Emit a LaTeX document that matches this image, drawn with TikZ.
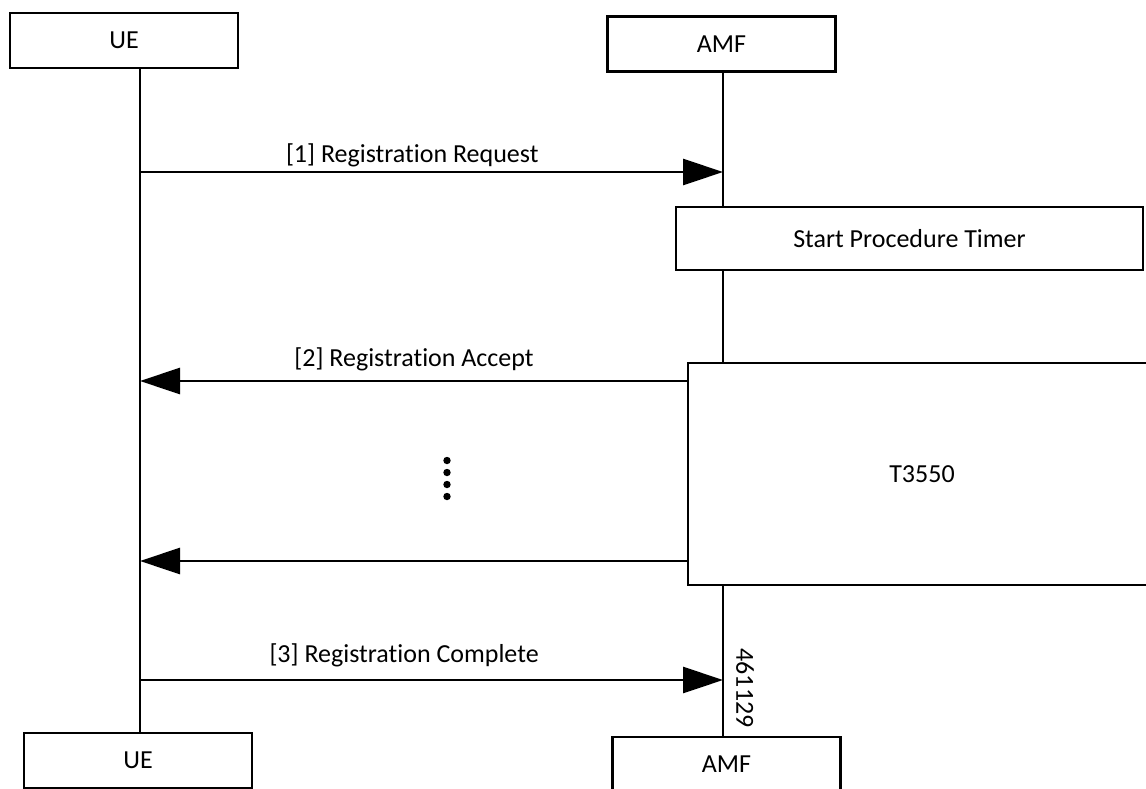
\documentclass[tikz,border=0pt]{standalone}
\usepackage{fontspec}
\setmainfont{Carlito}[Ligatures={NoCommon,NoRequired,NoContextual}, Contextuals=NoAlternate]
\usetikzlibrary{arrows.meta,positioning,calc}

\begin{document}
\begin{tikzpicture}[x=1pt, y=-1pt,
    box/.style={rectangle, draw=black, fill=white, line width=2.8pt,
                minimum width=228pt, minimum height=55pt, align=center,
                inner sep=0pt, outer sep=0pt, font=\fontsize{26}{30}\selectfont},
    life/.style={line width=2.8pt},
    msg/.style={-{Triangle[length=40pt,width=26pt]}, line width=2.8pt},
    lbl/.style={font=\fontsize{26}{30}\selectfont, anchor=base, yshift=10pt, inner sep=0pt}]

\useasboundingbox (0,0) rectangle (1146,788);
\clip (0,0) rectangle (1146,788);

\node[box] (ue) at (124,40.5) {UE};
\node[box] (amf) at (721.5,44) {AMF};
\node[box] (ue2) at (138,760.5) {UE};
\node[box] (amf2) at (726.5,764.5) {AMF};
\node[box, minimum width=467pt, minimum height=63pt] (start) at (909.5,238.5) {Start Procedure Timer};
\node[box, minimum width=468pt, minimum height=222pt] (t3550) at (922,474) {T3550};

\coordinate (uex) at (140,0);
\coordinate (amfx) at (723,0);
\coordinate (m1) at (0,172);
\coordinate (m2) at (0,381);
\coordinate (m3) at (0,561);
\coordinate (m4) at (0,680);

\draw[life] (ue.south -| uex) -- (ue2.north -| uex);
\draw[life] (amf.south -| amfx) -- (start.north -| amfx);
\draw[life] (start.south -| amfx) -- (t3550.north -| amfx);
\draw[life] (t3550.south -| amfx) -- (amf2.north -| amfx);

\draw[msg] (uex |- m1) -- (amfx |- m1) node[lbl, pos=0.467] {[1] Registration Request};
\draw[msg] (t3550.west |- m2) -- (uex |- m2) node[lbl, midway, yshift=5pt] {[2] Registration Accept};
\draw[msg] (t3550.west |- m3) -- (uex |- m3);
\draw[msg] (uex |- m4) -- (amfx |- m4) node[lbl, pos=0.453, yshift=8pt] {[3] Registration Complete};

\foreach \y in {460.5,472.5,484.5,496.5}
  \fill (447,\y) circle (3.7pt);

\node[font=\fontsize{26}{30}\selectfont, rotate=-90, inner sep=0pt] (fig) at (745,688) {461129};
\end{tikzpicture}
\end{document}
